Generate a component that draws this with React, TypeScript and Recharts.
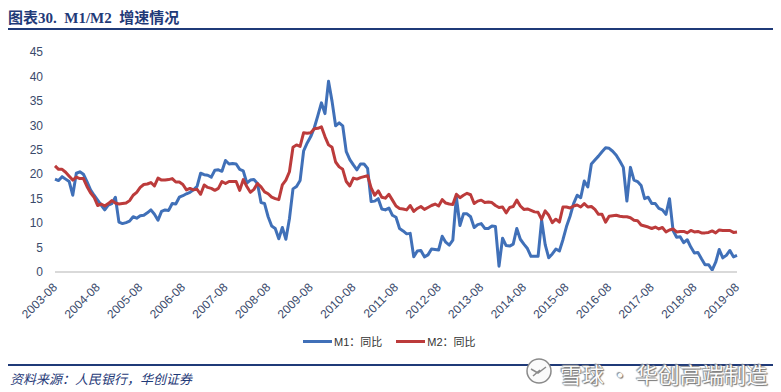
import React from 'react';
import { LineChart, Line, XAxis, YAxis } from 'recharts';

// 2003-08 .. 2019-08, monthly, YoY %
const M1_VALUES = [
  19.0, 18.7, 19.5, 19.0, 18.5,
  15.7, 20.2, 20.5, 20.0, 18.5, 16.8, 15.7, 14.7, 13.7, 12.7, 13.7, 14.0,
  15.3, 10.2, 9.9, 10.1, 10.4, 11.3, 11.0, 11.5, 11.6, 12.1, 12.7, 11.8,
  10.6, 12.4, 12.7, 12.6, 14.0, 13.9, 15.3, 15.6, 16.0, 16.3, 16.8, 17.5,
  20.2, 19.9, 19.8, 19.4, 20.8, 20.9, 20.6, 22.8, 22.1, 22.2, 22.1, 21.0,
  20.7, 18.2, 18.8, 18.9, 18.1, 14.2, 14.0, 11.3, 9.4, 8.9, 6.8, 9.1,
  6.7, 10.9, 17.0, 17.5, 18.7, 24.8, 26.4, 27.7, 29.5, 32.0, 34.6, 32.4,
  39.0, 34.9, 29.9, 30.5, 29.9, 24.6, 23.0, 21.9, 20.9, 22.1, 22.1, 21.2,
  14.4, 14.5, 15.0, 12.9, 12.7, 13.1, 11.6, 11.2, 8.9, 8.4, 7.8, 7.9,
  3.1, 4.3, 4.4, 3.1, 3.5, 4.7, 4.6, 4.5, 7.3, 6.1, 5.5, 6.5,
  15.3, 9.5, 11.9, 11.9, 11.3, 9.1, 9.7, 9.9, 8.9, 8.9, 9.4, 9.3,
  1.2, 6.9, 5.4, 5.3, 5.7, 8.9, 6.7, 5.7, 4.8, 3.2, 3.2, 3.2,
  10.6, 5.6, 2.9, 3.7, 4.7, 4.3, 6.6, 9.3, 11.4, 14.0, 15.7, 15.2,
  18.6, 17.4, 22.1, 22.9, 23.7, 24.6, 25.4, 25.3, 24.7, 23.9, 22.7, 21.4,
  14.5, 21.4, 18.8, 18.5, 17.7, 15.0, 15.3, 14.0, 14.0, 13.0, 12.7, 11.8,
  15.0, 8.5, 7.1, 7.2, 6.0, 6.6, 5.1, 3.9, 4.0, 2.7, 1.5, 1.5,
  0.4, 2.0, 4.6, 2.9, 3.4, 4.4, 3.1, 3.4,
];

const M2_VALUES = [
  21.7, 21.0, 21.0, 20.4, 19.6,
  18.8, 19.4, 19.1, 19.1, 17.5, 16.2, 15.3, 13.6, 13.9, 13.5, 14.0, 14.6,
  14.1, 13.9, 14.0, 14.1, 14.6, 15.7, 16.3, 17.3, 17.9, 18.0, 18.3, 17.6,
  19.2, 18.8, 18.8, 18.9, 19.1, 18.4, 18.4, 17.9, 16.8, 17.1, 16.8, 16.9,
  15.9, 17.8, 17.3, 17.1, 16.7, 17.1, 18.5, 18.1, 18.5, 18.5, 18.5, 16.7,
  18.9, 17.5, 16.3, 16.9, 18.1, 17.4, 16.4, 16.0, 15.3, 15.0, 14.8, 17.8,
  18.8, 20.5, 25.5, 26.0, 25.7, 28.5, 28.4, 28.5, 29.3, 29.4, 29.7, 27.7,
  26.0, 25.5, 22.5, 21.5, 21.0, 18.5, 17.6, 19.2, 19.0, 19.3, 19.5, 19.7,
  17.2, 15.7, 16.6, 15.3, 15.1, 15.9, 14.7, 13.5, 13.0, 12.9, 12.7, 13.6,
  12.4, 13.0, 13.4, 12.8, 13.2, 13.6, 13.9, 13.5, 14.8, 14.1, 13.9, 13.8,
  15.9, 15.2, 15.7, 16.1, 15.8, 14.0, 14.5, 14.7, 14.2, 14.3, 14.2, 13.6,
  13.2, 13.3, 12.1, 13.2, 13.4, 14.7, 13.5, 12.8, 12.9, 12.6, 12.3, 12.2,
  10.8, 12.5, 11.6, 10.1, 10.8, 10.2, 13.3, 13.3, 13.1, 13.5, 13.7, 13.3,
  14.0, 13.3, 13.4, 12.8, 11.8, 11.8, 10.2, 11.4, 11.5, 11.6, 11.4, 11.3,
  11.3, 11.1, 10.6, 10.5, 9.6, 9.4, 9.2, 8.9, 9.2, 8.8, 9.1, 8.2,
  8.6, 8.8, 8.2, 8.3, 8.3, 8.0, 8.5, 8.2, 8.3, 8.0, 8.0, 8.1,
  8.4, 8.0, 8.6, 8.5, 8.5, 8.5, 8.1, 8.2,
];

const Y_TICKS = [0, 5, 10, 15, 20, 25, 30, 35, 40, 45];

const SERIES = [
  { key: 'm1', name: 'M1：同比', color: '#4070B8' },
  { key: 'm2', name: 'M2：同比', color: '#BC3B3B' },
];

const TITLE = '图表30.  M1/M2  增速情况';
const SOURCE = '资料来源：人民银行，华创证券';
const WATERMARK = '雪球 · 华创高端制造';

const monthLabel = (i: number) => {
  const m = 8 + i - 1;
  const year = 2003 + Math.floor(m / 12);
  const month = (m % 12) + 1;
  return `${year}-${String(month).padStart(2, '0')}`;
};

const data = M1_VALUES.map((v, i) => ({
  date: monthLabel(i),
  m1: v,
  m2: M2_VALUES[i],
}));

const NAVY = '#1F3A78';
const TICK_COLOR = '#3A4A6B';
const SANS = "'Liberation Sans', Arial, 'Noto Sans CJK SC', sans-serif";

const XTick = (props: any) => {
  const { x, y, payload } = props;
  const ax = x + 3;
  const ay = y + 8;
  return (
    <text
      x={ax}
      y={ay}
      transform={`rotate(-45 ${ax} ${ay})`}
      textAnchor="end"
      fontSize={12}
      fontFamily={SANS}
      fill={TICK_COLOR}
    >
      {payload.value}
    </text>
  );
};

export default function App() {
  return (
    <div style={{ position: 'relative', width: 781, height: 392, background: '#fff', overflow: 'hidden' }}>
      <style>{`body{margin:0}`}</style>

      <div
        style={{
          position: 'absolute',
          left: 8,
          top: 6,
          fontSize: 15,
          fontWeight: 'bold',
          color: NAVY,
          whiteSpace: 'pre',
          fontFamily: "'Liberation Serif', 'Noto Sans CJK SC', serif",
        }}
      >
        {TITLE}
      </div>
      <div style={{ position: 'absolute', left: 8, top: 28, width: 765, height: 2, background: NAVY }} />

      <div style={{ position: 'absolute', left: 0, top: 0 }}>
        <LineChart width={781} height={330} data={data} margin={{ top: 52, right: 44, bottom: 0, left: 0 }}>
          <XAxis
            dataKey="date"
            interval={11}
            tickLine={false}
            axisLine={{ stroke: '#D9D9D9', strokeWidth: 2 }}
            tick={<XTick />}
            height={58}
          />
          <YAxis
            domain={[0, 45]}
            ticks={Y_TICKS}
            width={55}
            axisLine={false}
            tickLine={false}
            tickMargin={6}
            tick={{ fontSize: 12, fill: TICK_COLOR, fontFamily: SANS }}
          />
          {SERIES.map((s) => (
            <Line
              key={s.key}
              type="linear"
              dataKey={s.key}
              name={s.name}
              stroke={s.color}
              strokeWidth={3}
              dot={false}
              strokeLinejoin="round"
              isAnimationActive={false}
            />
          ))}
        </LineChart>
      </div>

      <div
        style={{
          position: 'absolute',
          left: 303,
          top: 333,
          display: 'flex',
          alignItems: 'center',
          fontSize: 11,
          fontFamily: SANS,
          color: '#333',
        }}
      >
        {SERIES.map((s) => (
          <div key={s.key} style={{ display: 'flex', alignItems: 'center', marginRight: 14 }}>
            <span style={{ display: 'inline-block', width: 29, height: 3, background: s.color, marginRight: 2 }} />
            <span>{s.name}</span>
          </div>
        ))}
      </div>

      <div style={{ position: 'absolute', left: 8, top: 364, width: 765, height: 2, background: NAVY }} />
      <div
        style={{
          position: 'absolute',
          left: 10,
          top: 369,
          fontSize: 13,
          fontStyle: 'italic',
          color: NAVY,
          fontFamily: "'Noto Sans CJK SC', sans-serif",
        }}
      >
        {SOURCE}
      </div>

      <svg style={{ position: 'absolute', left: 524, top: 356 }} width={30} height={30}>
        <circle cx={15} cy={15} r={12} fill="#fafafa" stroke="#8a8a8a" strokeWidth={1.5} />
        <path d="M7 13 L14 17 L22 11 M9 20 L16 14" stroke="#8a8a8a" strokeWidth={1.5} fill="none" />
      </svg>
      <div
        style={{
          position: 'absolute',
          left: 560,
          top: 357,
          fontSize: 22,
          color: '#fbfbfb',
          whiteSpace: 'pre',
          fontFamily: "'Noto Sans CJK SC', sans-serif",
          textShadow: '0 0 1px #666, 1px 1px 1px #777, -1px -1px 1px #999',
        }}
      >
        {WATERMARK}
      </div>
    </div>
  );
}
